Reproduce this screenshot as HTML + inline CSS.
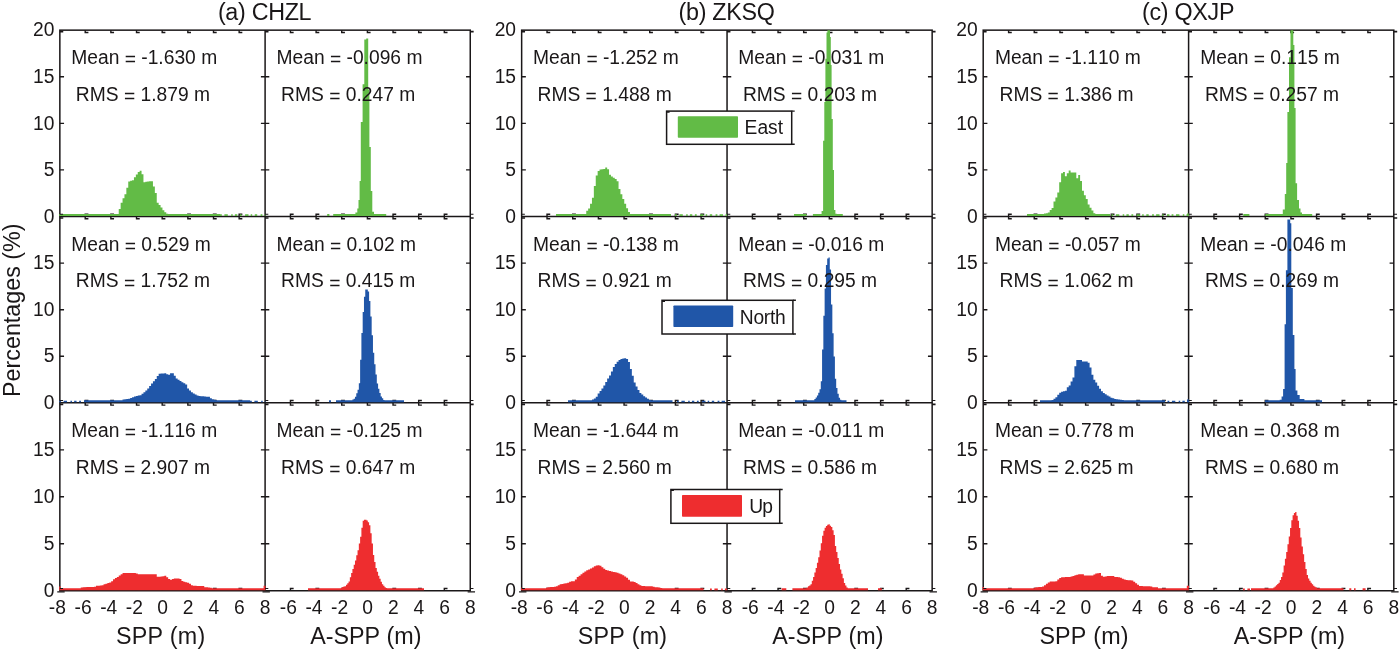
<!DOCTYPE html>
<html lang="en">
<head>
<meta charset="utf-8">
<title>SPP vs A-SPP positioning error histograms</title>
<style>html,body{margin:0;padding:0;background:#fff}body{width:1400px;height:649px;overflow:hidden}svg{display:block}text{font-kerning:none;font-variant-ligatures:none}</style>
</head>
<body>
<svg width="1400" height="649" viewBox="0 0 1400 649" role="img" aria-label="Histograms of SPP and A-SPP positioning errors for stations CHZL, ZKSQ and QXJP">
<rect width="1400" height="649" fill="#fff"/>
<g fill="none" stroke="#1a1718" stroke-width="1.5" stroke-linecap="butt">
<rect x="59.85" y="30.15" width="410.4" height="560.6"/>
<path d="M265.1 30.15V590.75M59.85 216.5H470.25M59.85 402.85H470.25"/>
<path d="M85.21 30.15v2.3h3.2M85.21 216.5v-2.3h3.2M110.86 30.15v2.3h3.2M110.86 216.5v-2.3h3.2M136.52 30.15v2.3h3.2M136.52 216.5v-2.3h3.2M162.18 30.15v2.3h3.2M162.18 216.5v-2.3h3.2M187.83 30.15v2.3h3.2M187.83 216.5v-2.3h3.2M213.49 30.15v2.3h3.2M213.49 216.5v-2.3h3.2M239.14 30.15v2.3h3.2M239.14 216.5v-2.3h3.2M59.85 169.91h4.2M265.1 169.91h-4.2M59.85 123.33h4.2M265.1 123.33h-4.2M59.85 76.74h4.2M265.1 76.74h-4.2M85.21 216.5v2.3h3.2M85.21 402.85v-2.3h3.2M110.86 216.5v2.3h3.2M110.86 402.85v-2.3h3.2M136.52 216.5v2.3h3.2M136.52 402.85v-2.3h3.2M162.18 216.5v2.3h3.2M162.18 402.85v-2.3h3.2M187.83 216.5v2.3h3.2M187.83 402.85v-2.3h3.2M213.49 216.5v2.3h3.2M213.49 402.85v-2.3h3.2M239.14 216.5v2.3h3.2M239.14 402.85v-2.3h3.2M59.85 356.26h4.2M265.1 356.26h-4.2M59.85 309.68h4.2M265.1 309.68h-4.2M59.85 263.09h4.2M265.1 263.09h-4.2M85.21 402.85v2.3h3.2M85.21 590.75v-2.3h3.2M110.86 402.85v2.3h3.2M110.86 590.75v-2.3h3.2M136.52 402.85v2.3h3.2M136.52 590.75v-2.3h3.2M162.18 402.85v2.3h3.2M162.18 590.75v-2.3h3.2M187.83 402.85v2.3h3.2M187.83 590.75v-2.3h3.2M213.49 402.85v2.3h3.2M213.49 590.75v-2.3h3.2M239.14 402.85v2.3h3.2M239.14 590.75v-2.3h3.2M59.85 543.77h4.2M265.1 543.77h-4.2M59.85 496.8h4.2M265.1 496.8h-4.2M59.85 449.83h4.2M265.1 449.83h-4.2M290.44 30.15v2.3h3.2M290.44 216.5v-2.3h3.2M316.09 30.15v2.3h3.2M316.09 216.5v-2.3h3.2M341.73 30.15v2.3h3.2M341.73 216.5v-2.3h3.2M367.38 30.15v2.3h3.2M367.38 216.5v-2.3h3.2M393.02 30.15v2.3h3.2M393.02 216.5v-2.3h3.2M418.66 30.15v2.3h3.2M418.66 216.5v-2.3h3.2M444.31 30.15v2.3h3.2M444.31 216.5v-2.3h3.2M265.1 169.91h4.2M470.25 169.91h-4.2M265.1 123.33h4.2M470.25 123.33h-4.2M265.1 76.74h4.2M470.25 76.74h-4.2M290.44 216.5v2.3h3.2M290.44 402.85v-2.3h3.2M316.09 216.5v2.3h3.2M316.09 402.85v-2.3h3.2M341.73 216.5v2.3h3.2M341.73 402.85v-2.3h3.2M367.38 216.5v2.3h3.2M367.38 402.85v-2.3h3.2M393.02 216.5v2.3h3.2M393.02 402.85v-2.3h3.2M418.66 216.5v2.3h3.2M418.66 402.85v-2.3h3.2M444.31 216.5v2.3h3.2M444.31 402.85v-2.3h3.2M265.1 356.26h4.2M470.25 356.26h-4.2M265.1 309.68h4.2M470.25 309.68h-4.2M265.1 263.09h4.2M470.25 263.09h-4.2M290.44 402.85v2.3h3.2M290.44 590.75v-2.3h3.2M316.09 402.85v2.3h3.2M316.09 590.75v-2.3h3.2M341.73 402.85v2.3h3.2M341.73 590.75v-2.3h3.2M367.38 402.85v2.3h3.2M367.38 590.75v-2.3h3.2M393.02 402.85v2.3h3.2M393.02 590.75v-2.3h3.2M418.66 402.85v2.3h3.2M418.66 590.75v-2.3h3.2M444.31 402.85v2.3h3.2M444.31 590.75v-2.3h3.2M265.1 543.77h4.2M470.25 543.77h-4.2M265.1 496.8h4.2M470.25 496.8h-4.2M265.1 449.83h4.2M470.25 449.83h-4.2" stroke-width="1.4" stroke-linejoin="miter"/>
<rect x="521.65" y="30.15" width="410.5" height="560.6"/>
<path d="M727.05 30.15V590.75M521.65 216.5H932.15M521.65 402.85H932.15"/>
<path d="M547.02 30.15v2.3h3.2M547.02 216.5v-2.3h3.2M572.7 30.15v2.3h3.2M572.7 216.5v-2.3h3.2M598.38 30.15v2.3h3.2M598.38 216.5v-2.3h3.2M624.05 30.15v2.3h3.2M624.05 216.5v-2.3h3.2M649.73 30.15v2.3h3.2M649.73 216.5v-2.3h3.2M675.4 30.15v2.3h3.2M675.4 216.5v-2.3h3.2M701.08 30.15v2.3h3.2M701.08 216.5v-2.3h3.2M521.65 169.91h4.2M727.05 169.91h-4.2M521.65 123.33h4.2M727.05 123.33h-4.2M521.65 76.74h4.2M727.05 76.74h-4.2M547.02 216.5v2.3h3.2M547.02 402.85v-2.3h3.2M572.7 216.5v2.3h3.2M572.7 402.85v-2.3h3.2M598.38 216.5v2.3h3.2M598.38 402.85v-2.3h3.2M624.05 216.5v2.3h3.2M624.05 402.85v-2.3h3.2M649.73 216.5v2.3h3.2M649.73 402.85v-2.3h3.2M675.4 216.5v2.3h3.2M675.4 402.85v-2.3h3.2M701.08 216.5v2.3h3.2M701.08 402.85v-2.3h3.2M521.65 356.26h4.2M727.05 356.26h-4.2M521.65 309.68h4.2M727.05 309.68h-4.2M521.65 263.09h4.2M727.05 263.09h-4.2M547.02 402.85v2.3h3.2M547.02 590.75v-2.3h3.2M572.7 402.85v2.3h3.2M572.7 590.75v-2.3h3.2M598.38 402.85v2.3h3.2M598.38 590.75v-2.3h3.2M624.05 402.85v2.3h3.2M624.05 590.75v-2.3h3.2M649.73 402.85v2.3h3.2M649.73 590.75v-2.3h3.2M675.4 402.85v2.3h3.2M675.4 590.75v-2.3h3.2M701.08 402.85v2.3h3.2M701.08 590.75v-2.3h3.2M521.65 543.77h4.2M727.05 543.77h-4.2M521.65 496.8h4.2M727.05 496.8h-4.2M521.65 449.83h4.2M727.05 449.83h-4.2M752.39 30.15v2.3h3.2M752.39 216.5v-2.3h3.2M778.02 30.15v2.3h3.2M778.02 216.5v-2.3h3.2M803.66 30.15v2.3h3.2M803.66 216.5v-2.3h3.2M829.3 30.15v2.3h3.2M829.3 216.5v-2.3h3.2M854.94 30.15v2.3h3.2M854.94 216.5v-2.3h3.2M880.58 30.15v2.3h3.2M880.58 216.5v-2.3h3.2M906.21 30.15v2.3h3.2M906.21 216.5v-2.3h3.2M727.05 169.91h4.2M932.15 169.91h-4.2M727.05 123.33h4.2M932.15 123.33h-4.2M727.05 76.74h4.2M932.15 76.74h-4.2M752.39 216.5v2.3h3.2M752.39 402.85v-2.3h3.2M778.02 216.5v2.3h3.2M778.02 402.85v-2.3h3.2M803.66 216.5v2.3h3.2M803.66 402.85v-2.3h3.2M829.3 216.5v2.3h3.2M829.3 402.85v-2.3h3.2M854.94 216.5v2.3h3.2M854.94 402.85v-2.3h3.2M880.58 216.5v2.3h3.2M880.58 402.85v-2.3h3.2M906.21 216.5v2.3h3.2M906.21 402.85v-2.3h3.2M727.05 356.26h4.2M932.15 356.26h-4.2M727.05 309.68h4.2M932.15 309.68h-4.2M727.05 263.09h4.2M932.15 263.09h-4.2M752.39 402.85v2.3h3.2M752.39 590.75v-2.3h3.2M778.02 402.85v2.3h3.2M778.02 590.75v-2.3h3.2M803.66 402.85v2.3h3.2M803.66 590.75v-2.3h3.2M829.3 402.85v2.3h3.2M829.3 590.75v-2.3h3.2M854.94 402.85v2.3h3.2M854.94 590.75v-2.3h3.2M880.58 402.85v2.3h3.2M880.58 590.75v-2.3h3.2M906.21 402.85v2.3h3.2M906.21 590.75v-2.3h3.2M727.05 543.77h4.2M932.15 543.77h-4.2M727.05 496.8h4.2M932.15 496.8h-4.2M727.05 449.83h4.2M932.15 449.83h-4.2" stroke-width="1.4" stroke-linejoin="miter"/>
<rect x="983.2" y="30.15" width="410.6" height="560.6"/>
<path d="M1188.6 30.15V590.75M983.2 216.5H1393.8M983.2 402.85H1393.8"/>
<path d="M1008.58 30.15v2.3h3.2M1008.58 216.5v-2.3h3.2M1034.25 30.15v2.3h3.2M1034.25 216.5v-2.3h3.2M1059.92 30.15v2.3h3.2M1059.92 216.5v-2.3h3.2M1085.6 30.15v2.3h3.2M1085.6 216.5v-2.3h3.2M1111.28 30.15v2.3h3.2M1111.28 216.5v-2.3h3.2M1136.95 30.15v2.3h3.2M1136.95 216.5v-2.3h3.2M1162.62 30.15v2.3h3.2M1162.62 216.5v-2.3h3.2M983.2 169.91h4.2M1188.6 169.91h-4.2M983.2 123.33h4.2M1188.6 123.33h-4.2M983.2 76.74h4.2M1188.6 76.74h-4.2M1008.58 216.5v2.3h3.2M1008.58 402.85v-2.3h3.2M1034.25 216.5v2.3h3.2M1034.25 402.85v-2.3h3.2M1059.92 216.5v2.3h3.2M1059.92 402.85v-2.3h3.2M1085.6 216.5v2.3h3.2M1085.6 402.85v-2.3h3.2M1111.28 216.5v2.3h3.2M1111.28 402.85v-2.3h3.2M1136.95 216.5v2.3h3.2M1136.95 402.85v-2.3h3.2M1162.62 216.5v2.3h3.2M1162.62 402.85v-2.3h3.2M983.2 356.26h4.2M1188.6 356.26h-4.2M983.2 309.68h4.2M1188.6 309.68h-4.2M983.2 263.09h4.2M1188.6 263.09h-4.2M1008.58 402.85v2.3h3.2M1008.58 590.75v-2.3h3.2M1034.25 402.85v2.3h3.2M1034.25 590.75v-2.3h3.2M1059.92 402.85v2.3h3.2M1059.92 590.75v-2.3h3.2M1085.6 402.85v2.3h3.2M1085.6 590.75v-2.3h3.2M1111.28 402.85v2.3h3.2M1111.28 590.75v-2.3h3.2M1136.95 402.85v2.3h3.2M1136.95 590.75v-2.3h3.2M1162.62 402.85v2.3h3.2M1162.62 590.75v-2.3h3.2M983.2 543.77h4.2M1188.6 543.77h-4.2M983.2 496.8h4.2M1188.6 496.8h-4.2M983.2 449.83h4.2M1188.6 449.83h-4.2M1213.95 30.15v2.3h3.2M1213.95 216.5v-2.3h3.2M1239.6 30.15v2.3h3.2M1239.6 216.5v-2.3h3.2M1265.25 30.15v2.3h3.2M1265.25 216.5v-2.3h3.2M1290.9 30.15v2.3h3.2M1290.9 216.5v-2.3h3.2M1316.55 30.15v2.3h3.2M1316.55 216.5v-2.3h3.2M1342.2 30.15v2.3h3.2M1342.2 216.5v-2.3h3.2M1367.85 30.15v2.3h3.2M1367.85 216.5v-2.3h3.2M1188.6 169.91h4.2M1393.8 169.91h-4.2M1188.6 123.33h4.2M1393.8 123.33h-4.2M1188.6 76.74h4.2M1393.8 76.74h-4.2M1213.95 216.5v2.3h3.2M1213.95 402.85v-2.3h3.2M1239.6 216.5v2.3h3.2M1239.6 402.85v-2.3h3.2M1265.25 216.5v2.3h3.2M1265.25 402.85v-2.3h3.2M1290.9 216.5v2.3h3.2M1290.9 402.85v-2.3h3.2M1316.55 216.5v2.3h3.2M1316.55 402.85v-2.3h3.2M1342.2 216.5v2.3h3.2M1342.2 402.85v-2.3h3.2M1367.85 216.5v2.3h3.2M1367.85 402.85v-2.3h3.2M1188.6 356.26h4.2M1393.8 356.26h-4.2M1188.6 309.68h4.2M1393.8 309.68h-4.2M1188.6 263.09h4.2M1393.8 263.09h-4.2M1213.95 402.85v2.3h3.2M1213.95 590.75v-2.3h3.2M1239.6 402.85v2.3h3.2M1239.6 590.75v-2.3h3.2M1265.25 402.85v2.3h3.2M1265.25 590.75v-2.3h3.2M1290.9 402.85v2.3h3.2M1290.9 590.75v-2.3h3.2M1316.55 402.85v2.3h3.2M1316.55 590.75v-2.3h3.2M1342.2 402.85v2.3h3.2M1342.2 590.75v-2.3h3.2M1367.85 402.85v2.3h3.2M1367.85 590.75v-2.3h3.2M1188.6 543.77h4.2M1393.8 543.77h-4.2M1188.6 496.8h4.2M1393.8 496.8h-4.2M1188.6 449.83h4.2M1393.8 449.83h-4.2" stroke-width="1.4" stroke-linejoin="miter"/>
</g>
<path fill="#62bb46" d="M59.25 216V214H220V216ZM220 216V214.3H221.8V216ZM224.4 216V214.3H227.8V216ZM231.2 216V214.3H232.7V216ZM234.9 216V214.3H237.3V216ZM239.9 216V214.3H241.7V216ZM245.1 216V214.3H248.5V216ZM250.7 216V214.3H252.2V216ZM254.8 216V214.3H257.2V216ZM260.6 216V214.3H262.4V216ZM264.6 216V214.3H265.4V216ZM111.15 216V214.17H113.05V214.17H114.95V214.17H116.85V214.17H118.75V208.99H120.65V202.76H122.55V198.36H124.45V194.18H126.35V187.82H128.25V181.49H130.15V180.85H132.05V180.22H133.95V177.37H135.85V174.39H137.75V172.11H139.65V170.82H141.55V174.22H143.45V182.2H145.35V181.86H147.25V181.52H149.15V181.28H151.05V181.16H152.95V186.57H154.85V192.89H156.75V202.8H158.65V205.08H160.55V207.5H162.45V210.16H164.35V212.3H166.25V213.76H168.15V215.05H170.05V216Z"/>
<path fill="#62bb46" d="M327.2 216V214H329.4V216ZM333.2 216V214H386.2V216ZM355.4 216L355.4 212.4L357.3 212.4L357.3 208.6L358.5 208.6L358.5 200.1L359.6 200.1L359.6 180.9L360.8 180.9L360.8 122L362.6 122L362.6 84.2L364.3 84.2L364.3 39.6L366.2 39.6L366.2 38.5L368.2 38.5L368.2 89.6L369.4 89.6L369.4 147L370.8 147L370.8 190.9L372.3 190.9L372.3 211.7L374 211.7L374 216Z"/>
<path fill="#2056a8" d="M59.25 402.35V400.65H61.05V402.35ZM63.65 402.35V400.65H67.05V402.35ZM70.45 402.35V400.65H71.95V402.35ZM74.15 402.35V400.65H76.55V402.35ZM79.15 402.35V400.65H80.95V402.35ZM84 402.35V400.35H250V402.35ZM250 402.35V400.65H251.8V402.35ZM254.4 402.35V400.65H257.8V402.35ZM261.2 402.35V400.65H262.7V402.35ZM264.9 402.35V400.65H265.4V402.35ZM120.65 402.35V400.64H122.55V399.43H124.45V399.19H126.35V398.96H128.25V398.71H130.15V397.99H132.05V397.28H133.95V396.57H135.85V396.08H137.75V395.6H139.65V395.13H141.55V393.79H143.45V392.27H145.35V390.41H147.25V388.51H149.15V386.01H151.05V383.47H152.95V381.14H154.85V378.92H156.75V375.93H158.65V373.65H160.55V373.55H162.45V373.45H164.35V373.34H166.25V374.2H168.15V374.78H170.05V373.27H171.95V373.27H173.85V375.74H175.75V378.43H177.65V379.69H179.55V380.96H181.45V382.15H183.35V383.34H185.25V384.53H187.15V388.51H189.05V390.41H190.95V392.31H192.85V393.52H194.75V394.47H196.65V395.42H198.55V395.92H200.45V396.14H202.35V396.36H204.25V396.58H206.15V396.8H208.05V396.8H209.95V398.23H211.85V399.14H213.75V399.77H215.65V400.57H217.55V402.35Z"/>
<path fill="#2056a8" d="M329 402.35V400.35H331V402.35ZM336 402.35V400.35H404V402.35ZM349.84 402.35V400.99H351.13V400.22H352.41V399.45H353.7V398.68H354.98V396.76H356.26V393.34H357.55V389.65H358.83V383.23H360.12V359.87H361.4V333H362.68V311.95H363.97V296.65H365.25V289.62H366.54V289.62H367.82V291.59H369.1V301.05H370.39V316.43H371.67V335.34H372.96V352.67H374.24V364.22H375.52V374.62H376.81V383.55H378.09V388.68H379.38V392.92H380.66V396.47H381.94V398.18H383.23V399.9H384.51V400.96H385.8V401.64H387.08V402.35Z"/>
<path fill="#ee2d2f" d="M59.25 590.25V588.25H265.4V590.25ZM59.15 590.25V586.55H60.75V590.25ZM263.6 590.25V585.85H265.5V590.25ZM78.85 590.25V588.72H80.75V587.62H82.65V587.2H84.55V587.14H86.45V587.07H88.35V587.01H90.25V586.95H92.15V586.88H94.05V586.82H95.95V585.77H97.85V585.63H99.75V585.49H101.65V585.34H103.55V584.2H105.45V583.63H107.35V583.06H109.25V582.49H111.15V581.2H113.05V579.25H114.95V578.06H116.85V576.88H118.75V575.6H120.65V574.2H122.55V572.98H124.45V572.98H126.35V572.98H128.25V572.98H130.15V572.98H132.05V572.98H133.95V572.98H135.85V573.43H137.75V574.16H139.65V574.16H141.55V574.16H143.45V574.16H145.35V574.16H147.25V574.16H149.15V574.16H151.05V574.16H152.95V574.16H154.85V574.35H156.75V576.76H158.65V576.7H160.55V576.43H162.45V576.14H164.35V575.85H166.25V577.37H168.15V578.89H170.05V579.68H171.95V579.05H173.85V578.42H175.75V578.42H177.65V578.42H179.55V579H181.45V580.9H183.35V581.72H185.25V582.2H187.15V582.67H189.05V583.84H190.95V585.36H192.85V585.82H194.75V585.87H196.65V585.92H198.55V585.97H200.45V586.02H202.35V586.07H204.25V587.26H206.15V587.36H208.05V587.45H209.95V587.67H211.85V590.25Z"/>
<path fill="#ee2d2f" d="M308 590.25V588.25H424V590.25ZM339.57 590.25V588.6H340.86V587.78H342.14V586.92H343.42V586.6H344.71V586.23H345.99V584.69H347.28V583.15H348.56V581.52H349.84V577.24H351.13V573H352.41V568.89H353.7V564.78H354.98V560.43H356.26V555.3H357.55V550.16H358.83V543.6H360.12V536.68H361.4V527.69H362.68V520.84H363.97V519.82H365.25V519.63H366.54V520.49H367.82V522.16H369.1V525.28H370.39V533.21H371.67V543.53H372.96V555.08H374.24V562H375.52V567.92H376.81V571.78H378.09V575.63H379.38V578.87H380.66V581.76H381.94V584.32H383.23V585.8H384.51V587.27H385.8V587.89H387.08V588.34H388.36V588.6H389.65V590.25Z"/>
<path fill="#62bb46" d="M556 216V214H671V216ZM675 216V214.3H676.8V216ZM679.4 216V214.3H682.8V216ZM686.2 216V214.3H687.7V216ZM689.9 216V214.3H692.3V216ZM694.9 216V214.3H696.7V216ZM700.1 216V214.3H703.5V216ZM705.7 216V214.3H707.2V216ZM709.8 216V214.3H712.2V216ZM715.6 216V214.3H717.4V216ZM719.6 216V214.3H723V216ZM725.6 216V214.3H727.1V216ZM584.35 216V214.03H586.25V210.77H588.15V208.39H590.05V203.78H591.95V197.87H593.85V186.02H595.75V175.61H597.65V171.01H599.55V169.43H601.45V169.2H603.35V168.88H605.25V167.62H607.15V169.28H609.05V174.86H610.95V176.59H612.85V177.73H614.75V178.91H616.65V181.13H618.55V189.12H620.45V194.13H622.35V198.88H624.25V203.63H626.15V208.3H628.05V212.1H629.95V215.05H631.85V216Z"/>
<path fill="#62bb46" d="M794 216V214H806.6V216ZM812.9 216V214H842.8V216ZM820.3 216L820.3 214L821.6 214L821.6 210.9L823.1 210.9L823.1 204L823.1 140.8L824.3 140.8L824.3 102L825.4 102L825.4 58.8L826.5 58.8L826.5 32.6L827.4 32.6L827.4 30.2L830 30.2L830 37L830.8 37L830.8 65L831.6 65L831.6 119L832.8 119L832.8 170L834 170L834 210L835.4 210L835.4 213.7L836.8 213.7L836.8 216Z"/>
<path fill="#2056a8" d="M568 402.35V400.35H672.5V402.35ZM677 402.35V400.65H678.8V402.35ZM681.4 402.35V400.65H684.8V402.35ZM688.2 402.35V400.65H689.7V402.35ZM691.9 402.35V400.65H694.3V402.35ZM696.9 402.35V400.65H698.7V402.35ZM702.1 402.35V400.65H705.5V402.35ZM707.7 402.35V400.65H709.2V402.35ZM711.8 402.35V400.65H714.2V402.35ZM717.6 402.35V400.65H719.4V402.35ZM721.6 402.35V400.65H725V402.35ZM590.05 402.35V400.86H591.95V399.59H593.85V398.61H595.75V396.68H597.65V393.6H599.55V391.06H601.45V388.45H603.35V385.6H605.25V382.09H607.15V378.43H609.05V375.58H610.95V371.59H612.85V366.94H614.75V364.09H616.65V361.81H618.55V360.1H620.45V359.12H622.35V358.48H624.25V358.29H626.15V359.07H628.05V362.06H629.95V368.99H631.85V375.79H633.75V382.6H635.65V386.4H637.55V389.88H639.45V393.01H641.35V394.6H643.25V396.18H645.15V397.51H647.05V398.78H648.95V399.9H650.85V400.85H652.75V402.35Z"/>
<path fill="#2056a8" d="M795 402.35V400.35H846.5V402.35ZM813.08 402.35V400.39H814.36V398.94H815.65V397.48H816.93V395.47H818.21V392.79H819.5V389.29H820.78V381.26H822.07V349.59H823.35V315.7H824.63V288.42H825.92V264.98H827.2V258.56H828.49V257.4H829.77V269.58H831.05V304.49H832.34V333.21H833.62V356.44H834.91V378.74H836.19V387.91H837.47V393.74H838.76V397.78H840.04V399.7H841.33V402.35Z"/>
<path fill="#ee2d2f" d="M521.05 590.25V588.25H703.5V590.25ZM710 590.25V588.55H711.8V590.25ZM714.4 590.25V588.55H717.8V590.25ZM721.2 590.25V588.55H722.7V590.25ZM724.9 590.25V588.55H727.3V590.25ZM520.95 590.25V587.65H522.15V590.25ZM544.45 590.25V588.72H546.35V587.44H548.25V587.16H550.15V587.05H552.05V586.95H553.95V586.85H555.85V586.22H557.75V585.29H559.65V584.37H561.55V583.95H563.45V583.57H565.35V583.19H567.25V582.78H569.15V581.83H571.05V581.29H572.95V581.14H574.85V579.4H576.75V577.11H578.65V575.72H580.55V574.32H582.45V572.86H584.35V571.41H586.25V570.34H588.15V569.39H590.05V568.44H591.95V567.4H593.85V566.33H595.75V565.54H597.65V565.31H599.55V565.8H601.45V567.32H603.35V568.71H605.25V569.94H607.15V570.47H609.05V570.95H610.95V571.42H612.85V571.9H614.75V572.37H616.65V572.85H618.55V573.53H620.45V574.29H622.35V575.26H624.25V576.52H626.15V577.84H628.05V579.74H629.95V581.39H631.85V581.54H633.75V581.9H635.65V583.04H637.55V584.18H639.45V585.32H641.35V586.08H643.25V586.11H645.15V586.14H647.05V586.16H648.95V586.19H650.85V586.22H652.75V586.74H654.65V587.16H656.55V587.3H658.45V587.44H660.35V587.96H662.25V588.72H664.15V590.25Z"/>
<path fill="#ee2d2f" d="M781.6 590.25V588.25H786.3V590.25ZM792.4 590.25V588.25H868V590.25ZM878 590.25V588.25H881.8V590.25ZM805.37 590.25V588.6H806.66V587.6H807.94V586.32H809.23V585.45H810.51V584.15H811.79V580.73H813.08V576.9H814.36V572.41H815.65V567.92H816.93V562.8H818.21V557.36H819.5V550.52H820.78V543.35H822.07V535.64H823.35V530.64H824.63V527.64H825.92V525.97H827.2V524.69H828.49V524.36H829.77V525.65H831.05V526.93H832.34V530.3H833.62V535.02H834.91V545.93H836.19V552.06H837.47V558.05H838.76V564.04H840.04V569.39H841.33V573.67H842.61V578.2H843.89V582.91H845.18V585.5H846.46V587.47H847.75V588.27H849.03V588.91H850.31V590.25Z"/>
<path fill="#62bb46" d="M1027 216V214H1110V216ZM1111.5 216V214.3H1113.3V216ZM1115.9 216V214.3H1119.3V216ZM1122.7 216V214.3H1124.2V216ZM1126.4 216V214.3H1128.8V216ZM1131.4 216V214.3H1133.2V216ZM1136.6 216V214.3H1140V216ZM1142.2 216V214.3H1143.7V216ZM1146.3 216V214.3H1148.7V216ZM1152.1 216V214.3H1153.9V216ZM1156.1 216V214.3H1159.5V216ZM1162.1 216V214.3H1163.6V216ZM1167 216V214.3H1169.4V216ZM1171.6 216V214.3H1173.4V216ZM1176 216V214.3H1179.4V216ZM1182.8 216V214.3H1184.3V216ZM1186.5 216V214.3H1188.9V216ZM1187 216V213.4H1189V216ZM1042.1 216V214.61H1044V213.46H1045.9V213.14H1047.8V212.42H1049.7V209.97H1051.6V208.07H1053.5V201.4H1055.4V197.58H1057.3V192.51H1059.2V182.24H1061.1V173.16H1063V172.03H1064.9V176.35H1066.8V173.35H1068.7V170.59H1070.6V172.38H1072.5V172.38H1074.4V172.38H1076.3V178.2H1078.2V174.88H1080.1V180.89H1082V190.8H1083.9V195.33H1085.8V198.89H1087.7V204.5H1089.6V207.67H1091.5V210.56H1093.4V213.34H1095.3V215.05H1097.2V216Z"/>
<path fill="#62bb46" d="M1243.3 216V214H1249.4V216ZM1265.3 216V214H1312.2V216ZM1281.3 216L1281.3 214.3L1282.8 214.3L1282.8 209.4L1284.8 209.4L1284.8 194L1286.2 194L1286.2 163.1L1287.4 163.1L1287.4 112L1289 112L1289 57.3L1290.5 57.3L1290.5 30.2L1293.3 30.2L1293.3 45L1294.4 45L1294.4 108L1295.6 108L1295.6 183.2L1297.1 183.2L1297.1 200.1L1299 200.1L1299 208.6L1300.5 208.6L1300.5 212.4L1302 212.4L1302 214.3L1303.5 214.3L1303.5 216Z"/>
<path fill="#2056a8" d="M1040 402.35V400.35H1165V402.35ZM1167.5 402.35V400.65H1169.3V402.35ZM1171.9 402.35V400.65H1175.3V402.35ZM1178.7 402.35V400.65H1180.2V402.35ZM1182.4 402.35V400.65H1184.8V402.35ZM1187.4 402.35V400.65H1188.9V402.35ZM1187 402.35V399.55H1189V402.35ZM1049.7 402.35V400.93H1051.6V400H1053.5V398.65H1055.4V397.2H1057.3V394.82H1059.2V392.85H1061.1V391.65H1063V391.14H1064.9V390.64H1066.8V387.28H1068.7V385.38H1070.6V381.38H1072.5V377.42H1074.4V366.27H1076.3V360.02H1078.2V360.02H1080.1V360.02H1082V361.49H1083.9V361.49H1085.8V361.49H1087.7V362.81H1089.6V367.41H1091.5V374.72H1093.4V379.64H1095.3V382.49H1097.2V385.68H1099.1V388.84H1101V391.21H1102.9V392.9H1104.8V394.16H1106.7V395.39H1108.6V396.53H1110.5V397.67H1112.4V398.31H1114.3V398.95H1116.2V399.32H1118.1V399.56H1120V399.81H1121.9V400.05H1123.8V400.72H1125.7V402.35Z"/>
<path fill="#2056a8" d="M1265 402.35V400.35H1322V402.35ZM1277.4 402.35L1277.4 401.2L1279.7 401.2L1279.7 399.7L1281.6 399.7L1281.6 396.6L1283.1 396.6L1283.1 388.9L1284.6 388.9L1284.6 380.4L1284.6 324.2L1285.9 324.2L1285.9 270.2L1287.4 270.2L1287.4 219.4L1290.2 219.4L1290.2 223.2L1291.3 223.2L1291.3 288L1292.8 288L1292.8 335L1294.4 335L1294.4 368.9L1295.6 368.9L1295.6 390.4L1297.4 390.4L1297.4 395L1299.7 395L1299.7 398.9L1304.4 398.9L1304.4 401.2L1306 401.2L1306 402.35Z"/>
<path fill="#ee2d2f" d="M982.6 590.25V588.25H1188.9V590.25ZM982.5 590.25V586.95H984.1V590.25ZM1186.8 590.25V585.85H1189V590.25ZM1032.6 590.25V588.72H1034.5V587.51H1036.4V587.14H1038.3V587.02H1040.2V586.89H1042.1V586.38H1044V585.24H1045.9V583.83H1047.8V582.38H1049.7V581.62H1051.6V581.53H1053.5V581.45H1055.4V581.32H1057.3V579.42H1059.2V578.06H1061.1V577.3H1063V577.18H1064.9V577.11H1066.8V577.04H1068.7V576.97H1070.6V576.53H1072.5V575.9H1074.4V575.31H1076.3V574.8H1078.2V574.3H1080.1V574.3H1082V574.3H1083.9V575.48H1085.8V575.48H1087.7V575.48H1089.6V575.48H1091.5V575.48H1093.4V574.39H1095.3V573.46H1097.2V573.24H1099.1V573.02H1101V575.86H1102.9V576.81H1104.8V576.38H1106.7V575.92H1108.6V575.92H1110.5V575.92H1112.4V575.92H1114.3V576.96H1116.2V577.08H1118.1V577.21H1120V577.84H1121.9V578.66H1123.8V579.42H1125.7V580.09H1127.6V580.19H1129.5V580.19H1131.4V580.38H1133.3V581.74H1135.2V583.17H1137.1V584.85H1139V586.08H1140.9V586.11H1142.8V586.13H1144.7V586.16H1146.6V586.18H1148.5V586.21H1150.4V586.57H1152.3V587.14H1154.2V587.24H1156.1V587.35H1158V588.72H1159.9V590.25Z"/>
<path fill="#ee2d2f" d="M1243 590.25V588.55H1244.8V590.25ZM1247.4 590.25V588.55H1250V590.25ZM1251 590.25V588.25H1343.5V590.25ZM1349.3 590.25V588.25H1351.3V590.25ZM1354 590.25V588.25H1355.6V590.25ZM1362.6 590.25V588.25H1365.6V590.25ZM1272.06 590.25V588.36H1273.34V587.4H1274.63V586.44H1275.91V585.2H1277.2V583.92H1278.48V582.63H1279.76V580H1281.05V577.11H1282.33V572.46H1283.62V565.61H1284.9V558.76H1286.18V551.92H1287.47V544.34H1288.75V536.6H1290.04V528.04H1291.32V520.32H1292.6V515.3H1293.89V512.91H1295.17V511.97H1296.46V515.63H1297.74V520.77H1299.02V528.07H1300.31V537.43H1301.59V546.56H1302.88V554.27H1304.16V561.97H1305.44V568.91H1306.73V574.91H1308.01V578.49H1309.3V580.74H1310.58V582.79H1311.86V584.27H1313.15V585.75H1314.43V586.72H1315.72V587.59H1317V588.46H1318.28V590.25Z"/>
<path d="M59.85 31.65h3.4M59.85 218h3.4M59.85 404.35h3.4M265.1 31.65h3.4M265.1 218h3.4M265.1 404.35h3.4M470.25 31.65h3.4M470.25 218h3.4M470.25 404.35h3.4" fill="none" stroke="#1a1718" stroke-width="1.7"/>
<path d="M59.85 214.2h3.2M59.85 400.55h3.2M59.85 588.45h3.2M57.25 591.9h7.4M265.1 214.2h3.2M265.1 400.55h3.2M265.1 588.45h3.2M262.5 591.9h7.4M470.25 214.2h3.2M470.25 400.55h3.2M470.25 588.45h3.2M467.65 591.9h7.4" fill="none" stroke="#1a1718" stroke-width="1.1"/>
<path d="M521.65 31.65h3.4M521.65 218h3.4M521.65 404.35h3.4M727.05 31.65h3.4M727.05 218h3.4M727.05 404.35h3.4M932.15 31.65h3.4M932.15 218h3.4M932.15 404.35h3.4" fill="none" stroke="#1a1718" stroke-width="1.7"/>
<path d="M521.65 214.2h3.2M521.65 400.55h3.2M521.65 588.45h3.2M519.05 591.9h7.4M727.05 214.2h3.2M727.05 400.55h3.2M727.05 588.45h3.2M724.45 591.9h7.4M932.15 214.2h3.2M932.15 400.55h3.2M932.15 588.45h3.2M929.55 591.9h7.4" fill="none" stroke="#1a1718" stroke-width="1.1"/>
<path d="M983.2 31.65h3.4M983.2 218h3.4M983.2 404.35h3.4M1188.6 31.65h3.4M1188.6 218h3.4M1188.6 404.35h3.4M1393.8 31.65h3.4M1393.8 218h3.4M1393.8 404.35h3.4" fill="none" stroke="#1a1718" stroke-width="1.7"/>
<path d="M983.2 214.2h3.2M983.2 400.55h3.2M983.2 588.45h3.2M980.6 591.9h7.4M1188.6 214.2h3.2M1188.6 400.55h3.2M1188.6 588.45h3.2M1186 591.9h7.4M1393.8 214.2h3.2M1393.8 400.55h3.2M1393.8 588.45h3.2M1391.2 591.9h7.4" fill="none" stroke="#1a1718" stroke-width="1.1"/>
<rect x="666.6" y="111.1" width="125.1" height="33.2" fill="#fff" stroke="#1a1718" stroke-width="1.5"/>
<path d="M791.7 111.1h3M791.7 144.3h3M666.6 112.0h3" fill="none" stroke="#1a1718" stroke-width="1.4"/>
<rect x="677.8" y="116.2" width="60.2" height="21.5" rx="0.8" fill="#62bb46"/>
<rect x="662.0" y="300.3" width="130.9" height="33.7" fill="#fff" stroke="#1a1718" stroke-width="1.5"/>
<path d="M792.9 300.3h3M792.9 334.0h3M662.0 301.2h3" fill="none" stroke="#1a1718" stroke-width="1.4"/>
<rect x="673.4" y="305.4" width="59.8" height="21.7" rx="0.8" fill="#2056a8"/>
<rect x="670.9" y="489.5" width="108.8" height="33.8" fill="#fff" stroke="#1a1718" stroke-width="1.5"/>
<path d="M779.7 489.5h3M779.7 523.3h3M670.9 490.4h3" fill="none" stroke="#1a1718" stroke-width="1.4"/>
<rect x="682.0" y="495.0" width="60" height="21.7" rx="0.8" fill="#ee2d2f"/>
<g fill="#1a1718" font-family="'Liberation Sans', Arial, Helvetica, sans-serif" font-size="20.0px">
<text transform="translate(744.6 134.2) scale(0.962 1)">East</text>
<text transform="translate(739.8 323.7) scale(0.962 1)" textLength="47.71" lengthAdjust="spacing">North</text>
<text transform="translate(749.2 512.9) scale(0.962 1)" textLength="24.64" lengthAdjust="spacing">Up</text>
<text transform="translate(54.4 222.7) scale(0.962 1)" text-anchor="end">0</text>
<text transform="translate(54.4 176.11) scale(0.962 1)" text-anchor="end">5</text>
<text transform="translate(54.4 129.53) scale(0.962 1)" text-anchor="end">10</text>
<text transform="translate(54.4 82.94) scale(0.962 1)" text-anchor="end">15</text>
<text transform="translate(54.4 36.35) scale(0.962 1)" text-anchor="end">20</text>
<text transform="translate(54.4 409.05) scale(0.962 1)" text-anchor="end">0</text>
<text transform="translate(54.4 362.46) scale(0.962 1)" text-anchor="end">5</text>
<text transform="translate(54.4 315.88) scale(0.962 1)" text-anchor="end">10</text>
<text transform="translate(54.4 269.29) scale(0.962 1)" text-anchor="end">15</text>
<text transform="translate(54.4 596.95) scale(0.962 1)" text-anchor="end">0</text>
<text transform="translate(54.4 550.38) scale(0.962 1)" text-anchor="end">5</text>
<text transform="translate(54.4 503.4) scale(0.962 1)" text-anchor="end">10</text>
<text transform="translate(54.4 456.43) scale(0.962 1)" text-anchor="end">15</text>
<text transform="translate(48.85 613.95) scale(0.962 1)">-8</text>
<text transform="translate(74.51 613.95) scale(0.962 1)">-6</text>
<text transform="translate(100.16 613.95) scale(0.962 1)">-4</text>
<text transform="translate(125.82 613.95) scale(0.962 1)">-2</text>
<text transform="translate(162.48 613.95) scale(0.962 1)" text-anchor="middle">0</text>
<text transform="translate(188.13 613.95) scale(0.962 1)" text-anchor="middle">2</text>
<text transform="translate(213.79 613.95) scale(0.962 1)" text-anchor="middle">4</text>
<text transform="translate(239.44 613.95) scale(0.962 1)" text-anchor="middle">6</text>
<text transform="translate(265.1 613.95) scale(0.962 1)" text-anchor="middle">8</text>
<text transform="translate(279.74 613.95) scale(0.962 1)">-6</text>
<text transform="translate(305.39 613.95) scale(0.962 1)">-4</text>
<text transform="translate(331.03 613.95) scale(0.962 1)">-2</text>
<text transform="translate(367.68 613.95) scale(0.962 1)" text-anchor="middle">0</text>
<text transform="translate(393.32 613.95) scale(0.962 1)" text-anchor="middle">2</text>
<text transform="translate(418.96 613.95) scale(0.962 1)" text-anchor="middle">4</text>
<text transform="translate(444.61 613.95) scale(0.962 1)" text-anchor="middle">6</text>
<text transform="translate(470.25 613.95) scale(0.962 1)" text-anchor="middle">8</text>
<text transform="translate(71.25 64.25) scale(0.962 1)">Mean <tspan dy="2.2">=</tspan><tspan dy="-2.2"> -1.630 m</tspan></text>
<text transform="translate(75.85 100.95) scale(0.962 1)">RMS <tspan dy="2.2">=</tspan><tspan dy="-2.2"> 1.879 m</tspan></text>
<text transform="translate(276.5 64.25) scale(0.962 1)">Mean <tspan dy="2.2">=</tspan><tspan dy="-2.2"> -0.096 m</tspan></text>
<text transform="translate(281.1 100.95) scale(0.962 1)">RMS <tspan dy="2.2">=</tspan><tspan dy="-2.2"> 0.247 m</tspan></text>
<text transform="translate(71.25 250.6) scale(0.962 1)">Mean <tspan dy="2.2">=</tspan><tspan dy="-2.2"> 0.529 m</tspan></text>
<text transform="translate(75.85 287.3) scale(0.962 1)">RMS <tspan dy="2.2">=</tspan><tspan dy="-2.2"> 1.752 m</tspan></text>
<text transform="translate(276.5 250.6) scale(0.962 1)">Mean <tspan dy="2.2">=</tspan><tspan dy="-2.2"> 0.102 m</tspan></text>
<text transform="translate(281.1 287.3) scale(0.962 1)">RMS <tspan dy="2.2">=</tspan><tspan dy="-2.2"> 0.415 m</tspan></text>
<text transform="translate(71.25 436.95) scale(0.962 1)">Mean <tspan dy="2.2">=</tspan><tspan dy="-2.2"> -1.116 m</tspan></text>
<text transform="translate(75.85 473.65) scale(0.962 1)">RMS <tspan dy="2.2">=</tspan><tspan dy="-2.2"> 2.907 m</tspan></text>
<text transform="translate(276.5 436.95) scale(0.962 1)">Mean <tspan dy="2.2">=</tspan><tspan dy="-2.2"> -0.125 m</tspan></text>
<text transform="translate(281.1 473.65) scale(0.962 1)">RMS <tspan dy="2.2">=</tspan><tspan dy="-2.2"> 0.647 m</tspan></text>
<text transform="translate(516.05 222.7) scale(0.962 1)" text-anchor="end">0</text>
<text transform="translate(516.05 176.11) scale(0.962 1)" text-anchor="end">5</text>
<text transform="translate(516.05 129.53) scale(0.962 1)" text-anchor="end">10</text>
<text transform="translate(516.05 82.94) scale(0.962 1)" text-anchor="end">15</text>
<text transform="translate(516.05 36.35) scale(0.962 1)" text-anchor="end">20</text>
<text transform="translate(516.05 409.05) scale(0.962 1)" text-anchor="end">0</text>
<text transform="translate(516.05 362.46) scale(0.962 1)" text-anchor="end">5</text>
<text transform="translate(516.05 315.88) scale(0.962 1)" text-anchor="end">10</text>
<text transform="translate(516.05 269.29) scale(0.962 1)" text-anchor="end">15</text>
<text transform="translate(516.05 596.95) scale(0.962 1)" text-anchor="end">0</text>
<text transform="translate(516.05 550.38) scale(0.962 1)" text-anchor="end">5</text>
<text transform="translate(516.05 503.4) scale(0.962 1)" text-anchor="end">10</text>
<text transform="translate(516.05 456.43) scale(0.962 1)" text-anchor="end">15</text>
<text transform="translate(510.65 613.95) scale(0.962 1)">-8</text>
<text transform="translate(536.32 613.95) scale(0.962 1)">-6</text>
<text transform="translate(562 613.95) scale(0.962 1)">-4</text>
<text transform="translate(587.67 613.95) scale(0.962 1)">-2</text>
<text transform="translate(624.35 613.95) scale(0.962 1)" text-anchor="middle">0</text>
<text transform="translate(650.02 613.95) scale(0.962 1)" text-anchor="middle">2</text>
<text transform="translate(675.7 613.95) scale(0.962 1)" text-anchor="middle">4</text>
<text transform="translate(701.38 613.95) scale(0.962 1)" text-anchor="middle">6</text>
<text transform="translate(727.05 613.95) scale(0.962 1)" text-anchor="middle">8</text>
<text transform="translate(741.69 613.95) scale(0.962 1)">-6</text>
<text transform="translate(767.32 613.95) scale(0.962 1)">-4</text>
<text transform="translate(792.96 613.95) scale(0.962 1)">-2</text>
<text transform="translate(829.6 613.95) scale(0.962 1)" text-anchor="middle">0</text>
<text transform="translate(855.24 613.95) scale(0.962 1)" text-anchor="middle">2</text>
<text transform="translate(880.88 613.95) scale(0.962 1)" text-anchor="middle">4</text>
<text transform="translate(906.51 613.95) scale(0.962 1)" text-anchor="middle">6</text>
<text transform="translate(932.15 613.95) scale(0.962 1)" text-anchor="middle">8</text>
<text transform="translate(532.95 64.25) scale(0.962 1)">Mean <tspan dy="2.2">=</tspan><tspan dy="-2.2"> -1.252 m</tspan></text>
<text transform="translate(537.55 100.95) scale(0.962 1)">RMS <tspan dy="2.2">=</tspan><tspan dy="-2.2"> 1.488 m</tspan></text>
<text transform="translate(738.35 64.25) scale(0.962 1)">Mean <tspan dy="2.2">=</tspan><tspan dy="-2.2"> -0.031 m</tspan></text>
<text transform="translate(742.95 100.95) scale(0.962 1)">RMS <tspan dy="2.2">=</tspan><tspan dy="-2.2"> 0.203 m</tspan></text>
<text transform="translate(532.95 250.6) scale(0.962 1)">Mean <tspan dy="2.2">=</tspan><tspan dy="-2.2"> -0.138 m</tspan></text>
<text transform="translate(537.55 287.3) scale(0.962 1)">RMS <tspan dy="2.2">=</tspan><tspan dy="-2.2"> 0.921 m</tspan></text>
<text transform="translate(738.35 250.6) scale(0.962 1)">Mean <tspan dy="2.2">=</tspan><tspan dy="-2.2"> -0.016 m</tspan></text>
<text transform="translate(742.95 287.3) scale(0.962 1)">RMS <tspan dy="2.2">=</tspan><tspan dy="-2.2"> 0.295 m</tspan></text>
<text transform="translate(532.95 436.95) scale(0.962 1)">Mean <tspan dy="2.2">=</tspan><tspan dy="-2.2"> -1.644 m</tspan></text>
<text transform="translate(537.55 473.65) scale(0.962 1)">RMS <tspan dy="2.2">=</tspan><tspan dy="-2.2"> 2.560 m</tspan></text>
<text transform="translate(738.35 436.95) scale(0.962 1)">Mean <tspan dy="2.2">=</tspan><tspan dy="-2.2"> -0.011 m</tspan></text>
<text transform="translate(742.95 473.65) scale(0.962 1)">RMS <tspan dy="2.2">=</tspan><tspan dy="-2.2"> 0.586 m</tspan></text>
<text transform="translate(977.6 222.7) scale(0.962 1)" text-anchor="end">0</text>
<text transform="translate(977.6 176.11) scale(0.962 1)" text-anchor="end">5</text>
<text transform="translate(977.6 129.53) scale(0.962 1)" text-anchor="end">10</text>
<text transform="translate(977.6 82.94) scale(0.962 1)" text-anchor="end">15</text>
<text transform="translate(977.6 36.35) scale(0.962 1)" text-anchor="end">20</text>
<text transform="translate(977.6 409.05) scale(0.962 1)" text-anchor="end">0</text>
<text transform="translate(977.6 362.46) scale(0.962 1)" text-anchor="end">5</text>
<text transform="translate(977.6 315.88) scale(0.962 1)" text-anchor="end">10</text>
<text transform="translate(977.6 269.29) scale(0.962 1)" text-anchor="end">15</text>
<text transform="translate(977.6 596.95) scale(0.962 1)" text-anchor="end">0</text>
<text transform="translate(977.6 550.38) scale(0.962 1)" text-anchor="end">5</text>
<text transform="translate(977.6 503.4) scale(0.962 1)" text-anchor="end">10</text>
<text transform="translate(977.6 456.43) scale(0.962 1)" text-anchor="end">15</text>
<text transform="translate(972.2 613.95) scale(0.962 1)">-8</text>
<text transform="translate(997.88 613.95) scale(0.962 1)">-6</text>
<text transform="translate(1023.55 613.95) scale(0.962 1)">-4</text>
<text transform="translate(1049.22 613.95) scale(0.962 1)">-2</text>
<text transform="translate(1085.9 613.95) scale(0.962 1)" text-anchor="middle">0</text>
<text transform="translate(1111.58 613.95) scale(0.962 1)" text-anchor="middle">2</text>
<text transform="translate(1137.25 613.95) scale(0.962 1)" text-anchor="middle">4</text>
<text transform="translate(1162.92 613.95) scale(0.962 1)" text-anchor="middle">6</text>
<text transform="translate(1188.6 613.95) scale(0.962 1)" text-anchor="middle">8</text>
<text transform="translate(1203.25 613.95) scale(0.962 1)">-6</text>
<text transform="translate(1228.9 613.95) scale(0.962 1)">-4</text>
<text transform="translate(1254.55 613.95) scale(0.962 1)">-2</text>
<text transform="translate(1291.2 613.95) scale(0.962 1)" text-anchor="middle">0</text>
<text transform="translate(1316.85 613.95) scale(0.962 1)" text-anchor="middle">2</text>
<text transform="translate(1342.5 613.95) scale(0.962 1)" text-anchor="middle">4</text>
<text transform="translate(1368.15 613.95) scale(0.962 1)" text-anchor="middle">6</text>
<text transform="translate(1393.8 613.95) scale(0.962 1)" text-anchor="middle">8</text>
<text transform="translate(994.9 64.25) scale(0.962 1)">Mean <tspan dy="2.2">=</tspan><tspan dy="-2.2"> -1.110 m</tspan></text>
<text transform="translate(999.5 100.95) scale(0.962 1)">RMS <tspan dy="2.2">=</tspan><tspan dy="-2.2"> 1.386 m</tspan></text>
<text transform="translate(1200.3 64.25) scale(0.962 1)">Mean <tspan dy="2.2">=</tspan><tspan dy="-2.2"> 0.115 m</tspan></text>
<text transform="translate(1204.9 100.95) scale(0.962 1)">RMS <tspan dy="2.2">=</tspan><tspan dy="-2.2"> 0.257 m</tspan></text>
<text transform="translate(994.9 250.6) scale(0.962 1)">Mean <tspan dy="2.2">=</tspan><tspan dy="-2.2"> -0.057 m</tspan></text>
<text transform="translate(999.5 287.3) scale(0.962 1)">RMS <tspan dy="2.2">=</tspan><tspan dy="-2.2"> 1.062 m</tspan></text>
<text transform="translate(1200.3 250.6) scale(0.962 1)">Mean <tspan dy="2.2">=</tspan><tspan dy="-2.2"> -0.046 m</tspan></text>
<text transform="translate(1204.9 287.3) scale(0.962 1)">RMS <tspan dy="2.2">=</tspan><tspan dy="-2.2"> 0.269 m</tspan></text>
<text transform="translate(994.9 436.95) scale(0.962 1)">Mean <tspan dy="2.2">=</tspan><tspan dy="-2.2"> 0.778 m</tspan></text>
<text transform="translate(999.5 473.65) scale(0.962 1)">RMS <tspan dy="2.2">=</tspan><tspan dy="-2.2"> 2.625 m</tspan></text>
<text transform="translate(1200.3 436.95) scale(0.962 1)">Mean <tspan dy="2.2">=</tspan><tspan dy="-2.2"> 0.368 m</tspan></text>
<text transform="translate(1204.9 473.65) scale(0.962 1)">RMS <tspan dy="2.2">=</tspan><tspan dy="-2.2"> 0.680 m</tspan></text>
</g>
<g fill="#1a1718" font-family="'Liberation Sans', Arial, Helvetica, sans-serif" font-size="23.3px" text-anchor="middle">
<text x="264.6" y="20.3" letter-spacing="-0.3">(a) CHZL</text>
<text x="160.68" y="644.1" letter-spacing="0.2">SPP (m)</text>
<text x="365.88" y="644.1">A-SPP (m)</text>
<text x="726.55" y="20.3" letter-spacing="-0.3">(b) ZKSQ</text>
<text x="622.55" y="644.1" letter-spacing="0.2">SPP (m)</text>
<text x="827.8" y="644.1">A-SPP (m)</text>
<text x="1188.1" y="20.3" letter-spacing="-0.3">(c) QXJP</text>
<text x="1084.1" y="644.1" letter-spacing="0.2">SPP (m)</text>
<text x="1289.4" y="644.1">A-SPP (m)</text>
<text transform="translate(20.0 310.2) rotate(-90)">Percentages (%)</text>
</g>
</svg>
</body>
</html>
